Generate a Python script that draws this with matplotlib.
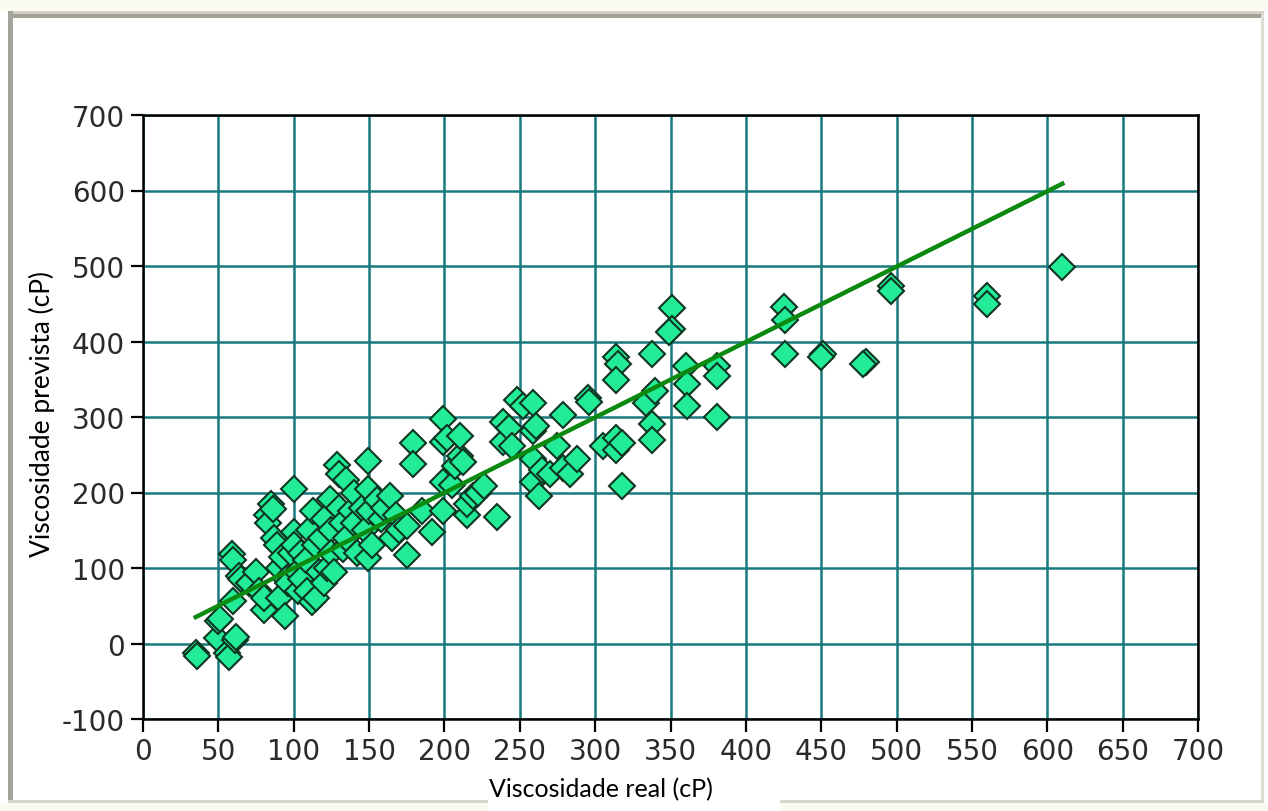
import numpy as np
import matplotlib
matplotlib.use("Agg")
import matplotlib.pyplot as plt
from matplotlib.patches import Rectangle

# measured (real) vs predicted viscosity, cP
visc_real = [35, 36, 49, 50, 51, 56, 57, 61, 62, 60, 59, 60, 64, 65, 70, 75, 77, 80, 80, 82,
             83, 85, 86, 87, 89, 90, 90, 92, 94, 95, 96, 98, 100, 100, 100, 102, 103, 105, 105, 108,
             109, 110, 112, 113, 114, 115, 117, 118, 120, 120, 122, 124, 125, 125, 127, 129, 130, 130, 132, 133,
             135, 135, 138, 140, 140, 142, 145, 147, 149, 149, 149, 150, 152, 155, 158, 160, 164, 165, 168, 170,
             175, 175, 179, 179, 185, 192, 199, 199, 199, 199, 202, 205, 207, 210, 210, 212, 215, 215, 219, 222,
             226, 235, 239, 239, 243, 245, 248, 252, 259, 259, 261, 259, 259, 263, 265, 270, 275, 279, 279, 283,
             288, 295, 296, 305, 314, 315, 314, 314, 314, 318, 318, 334, 338, 340, 338, 338, 351, 351, 349, 360,
             361, 361, 381, 381, 381, 425, 426, 426, 451, 450, 480, 478, 496, 496, 560, 560, 610]
visc_prev = [-13, -16, 7, 30, 33, -13, -18, 4, 8, 56, 119, 110, 90, 85, 80, 95, 70, 44, 60, 170,
             160, 185, 178, 140, 130, 100, 60, 115, 37, 86, 80, 120, 205, 148, 130, 95, 70, 120, 85, 110,
             69, 150, 55, 175, 130, 60, 95, 140, 80, 165, 100, 192, 150, 120, 95, 236, 225, 180, 160, 125,
             216, 140, 175, 160, 200, 120, 180, 150, 242, 205, 113, 175, 130, 190, 165, 180, 196, 140, 170, 150,
             117, 155, 265, 238, 175, 148, 298, 267, 214, 175, 272, 210, 235, 249, 275, 240, 170, 185, 196, 200,
             209, 168, 294, 267, 285, 262, 322, 315, 318, 281, 288, 245, 214, 196, 230, 225, 262, 302, 232, 225,
             245, 325, 320, 262, 380, 370, 349, 272, 256, 265, 208, 318, 384, 334, 291, 269, 444, 417, 413, 367,
             344, 314, 367, 354, 300, 446, 428, 384, 384, 380, 373, 370, 474, 467, 460, 450, 499]

# fitted trend line end points
trend_x = [35, 610]
trend_y = [35, 609]

x_ticks = np.arange(0, 701, 50)
y_ticks = np.arange(-100, 701, 100)

fig = plt.figure(figsize=(12.68, 8.12), dpi=100)
fig.patch.set_facecolor('white')

# window-like frame around the chart
W, H = 1268, 812
def px_rect(x0, y0, x1, y1, color, z=0):
    fig.patches.append(Rectangle((x0 / W, 1 - y1 / H), (x1 - x0) / W, (y1 - y0) / H,
                                 transform=fig.transFigure, facecolor=color,
                                 edgecolor='none', zorder=z))

px_rect(0, 0, W, 12, '#fbfaf3')
px_rect(8, 12, 1264, 15, '#d2d0c2')
px_rect(8, 15, 1264, 19, '#a3a195')
px_rect(8, 12, 13, 805, '#a5a49c')
px_rect(1261, 14, 1264, 805, '#dcdcd4')
px_rect(8, 801, 1264, 804, '#d5d5cb')
px_rect(0, 804, W, H, '#fbfaf3')
px_rect(488, 772, 780, H, 'white', z=1)

ax = fig.add_axes([143 / W, 1 - 720 / H, (1198 - 143) / W, (720 - 116) / H])
ax.set_xlim(0, 700)
ax.set_ylim(-100, 700)
ax.set_xticks(x_ticks)
ax.set_yticks(y_ticks)
ax.grid(True, color='#18797d', linewidth=1.8, zorder=0)
ax.set_axisbelow(True)
for s in ax.spines.values():
    s.set_linewidth(1.8)
    s.set_color('black')

ax.plot(visc_real, visc_prev, linestyle='none', marker='D', markersize=13.5,
        markerfacecolor='#22ec98', markeredgecolor='#0e3622', markeredgewidth=1.5, zorder=3)
ax.plot(trend_x, trend_y, color='#0c8a10', linewidth=3.2, zorder=4)

tick_font = dict(family=['DejaVu Sans'], size=20)
ax.tick_params(direction='out', length=9, width=1.6, pad=4, colors='black')
ax.set_xticklabels([str(v) for v in x_ticks], fontdict=tick_font, color='#2a2a2a')
ax.set_yticklabels([str(v) for v in y_ticks], fontdict=tick_font, color='#2a2a2a')

fig.text(601 / W, 1 - 790 / H, 'Viscosidade real (cP)', ha='center', va='center',
         family=['Lato', 'DejaVu Sans'], size=18, zorder=5)
fig.text(42 / W, 1 - 414 / H, 'Viscosidade prevista (cP)', ha='center', va='center',
         rotation=90, family=['Lato', 'DejaVu Sans'], size=19)

fig.savefig('out.png', dpi=100)
